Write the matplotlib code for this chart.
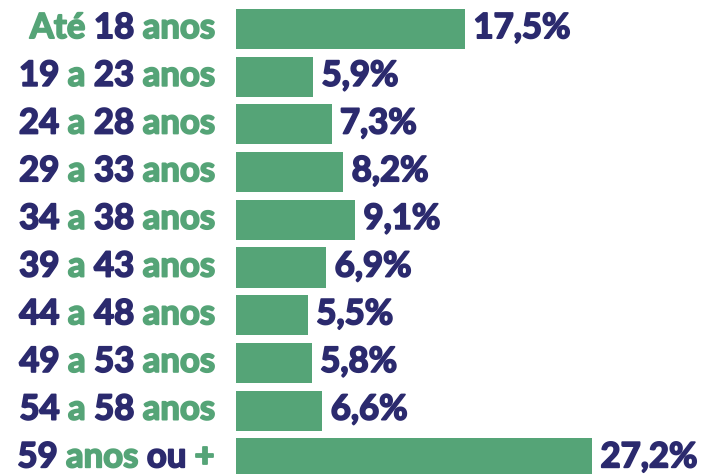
import matplotlib
matplotlib.use("Agg")
import matplotlib.pyplot as plt
import matplotlib.patheffects as pe

# ── Data ─────────────────────────────────────────────────────────────
# each label is split into (text, is_number) pieces so they can be coloured
label_pieces = [
    [("Até", False), (" 18", True), (" anos", False)],
    [("19", True), (" a", False), (" 23", True), (" anos", False)],
    [("24", True), (" a", False), (" 28", True), (" anos", False)],
    [("29", True), (" a", False), (" 33", True), (" anos", False)],
    [("34", True), (" a", False), (" 38", True), (" anos", False)],
    [("39", True), (" a", False), (" 43", True), (" anos", False)],
    [("44", True), (" a", False), (" 48", True), (" anos", False)],
    [("49", True), (" a", False), (" 53", True), (" anos", False)],
    [("54", True), (" a", False), (" 58", True), (" anos", False)],
    [("59", True), (" anos", False), (" ou", True), (" +", False)],
]
shares = [17.5, 5.9, 7.3, 8.2, 9.1, 6.9, 5.5, 5.8, 6.6, 27.2]
value_labels = ["17,5%", "5,9%", "7,3%", "8,2%", "9,1%", "6,9%", "5,5%", "5,8%", "6,6%", "27,2%"]

GREEN = "#55a477"
NAVY = "#2b2a6e"
FONT = "Lato"
FSIZE = 25
WEIGHT = "bold"


def heavy(col):
    # Lato bold is lighter than the original face, so thicken it a bit
    return [pe.withStroke(linewidth=1.3, foreground=col)]


plt.rcParams["font.family"] = [FONT, "DejaVu Sans"]

fig = plt.figure(figsize=(7.1, 4.74), dpi=100)
fig.patch.set_facecolor("white")
ax = fig.add_axes([236 / 710, 0, 1 - 236 / 710, 1])
ax.set_axis_off()

y = list(range(len(shares)))
ax.barh(y, shares, height=0.84, color=GREEN, edgecolor="none")
ax.set_xlim(0, 36.2)
ax.set_ylim(9.33, -0.61)

# value labels
for i, (v, txt) in enumerate(zip(shares, value_labels)):
    ax.annotate(txt, xy=(v, i), xytext=(6, -6.5), textcoords="offset points",
                ha="left", va="baseline", fontsize=FSIZE, fontweight=WEIGHT,
                color=NAVY, path_effects=heavy(NAVY), annotation_clip=False)

# category labels, chained right to left so each piece keeps its own colour
for i, pieces in enumerate(label_pieces):
    prev = None
    for text, is_num in reversed(pieces):
        col = NAVY if is_num else GREEN
        if prev is None:
            prev = ax.annotate(text, xy=(0, i), xytext=(-15, -6.5),
                               textcoords="offset points", ha="right",
                               va="baseline", fontsize=FSIZE, fontweight=WEIGHT,
                               color=col, path_effects=heavy(col),
                               annotation_clip=False)
        else:
            prev = ax.annotate(text, xy=(0, 0), xycoords=prev, ha="right",
                               va="bottom", fontsize=FSIZE, fontweight=WEIGHT,
                               color=col, path_effects=heavy(col),
                               annotation_clip=False)

fig.savefig("out.png", dpi=100, facecolor="white")
